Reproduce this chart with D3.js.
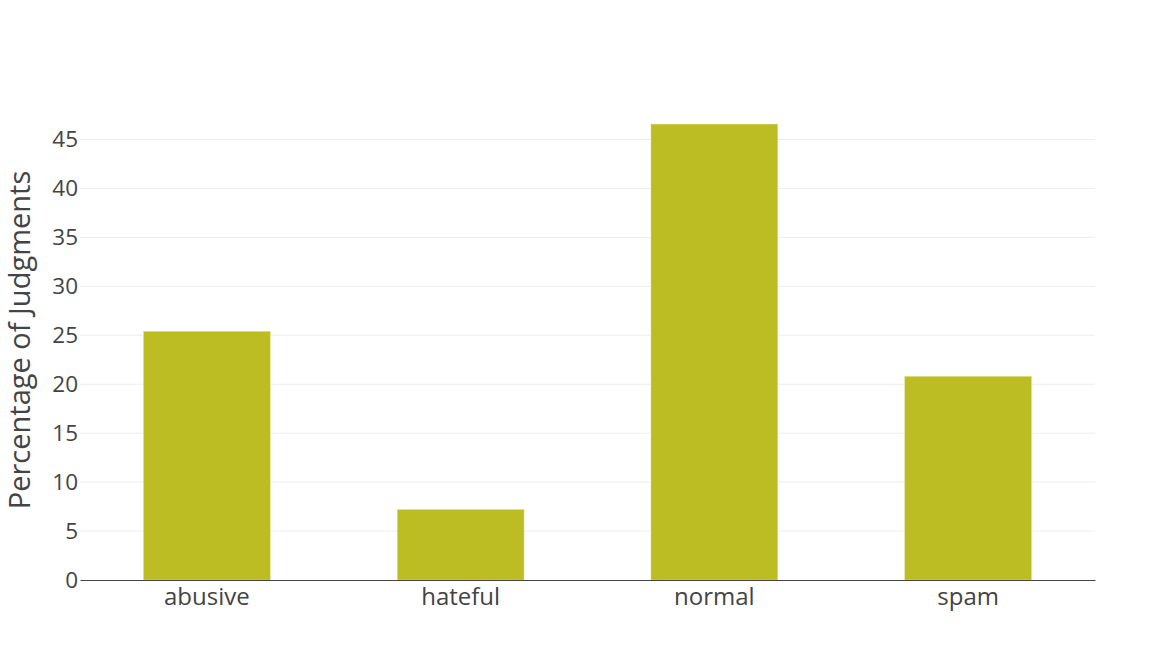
<!DOCTYPE html>
<html><head><meta charset="utf-8">
<script src="https://cdn.jsdelivr.net/npm/d3@7"></script>
<style>body{margin:0;background:#fff}svg{display:block}text{font-family:"Open Sans",sans-serif;fill:#444}</style>
</head><body><svg id="c" width="1175" height="660"></svg>
<script>
const categories = ["abusive", "hateful", "normal", "spam"];
const values = [25.41, 7.21, 46.58, 20.81];
const yTicks = [0, 5, 10, 15, 20, 25, 30, 35, 40, 45];
const yTitle = "Percentage of Judgments";

const W = 1175, H = 660, m = {l: 80, r: 80, t: 100, b: 80};
const svg = d3.select("#c");
const x = d3.scaleBand().domain(categories).range([m.l, W - m.r]).paddingInner(0.5).paddingOuter(0.25);
const y = d3.scaleLinear().domain([0, d3.max(values) * 1.0527]).range([H - m.b, m.t]);

svg.append("g").selectAll("line").data(yTicks.filter(d => d > 0)).join("line")
  .attr("x1", m.l).attr("x2", W - m.r)
  .attr("y1", d => y(d)).attr("y2", d => y(d))
  .attr("stroke", "#eee").attr("stroke-width", 1);

svg.append("g").selectAll("rect").data(values).join("rect")
  .attr("x", (d, i) => x(categories[i]))
  .attr("width", x.bandwidth())
  .attr("y", d => y(d))
  .attr("height", d => y(0) - y(d))
  .attr("fill", "#bcbd22")
  .attr("stroke", "#e6e6a0").attr("stroke-width", 0.5);

const ya = svg.append("g").attr("transform", `translate(${m.l},0)`)
  .call(d3.axisLeft(y).tickValues(yTicks).tickSize(0).tickPadding(2));
ya.select(".domain").remove();
ya.selectAll("text").attr("font-size", 22.5).style("font-family", "'Open Sans'").attr("fill", "#444");

const xa = svg.append("g").attr("transform", `translate(0,${y(0)})`)
  .call(d3.axisBottom(x).tickSize(0).tickPadding(8));
xa.select(".domain").attr("stroke", "#444").attr("stroke-width", 1);
xa.selectAll("text").attr("font-size", 24).style("font-family", "'Open Sans'").attr("fill", "#444");

svg.append("text")
  .attr("transform", `translate(30,${(m.t + H - m.b) / 2}) rotate(-90)`)
  .attr("text-anchor", "middle")
  .attr("font-size", 29)
  .text(yTitle);
</script></body></html>
